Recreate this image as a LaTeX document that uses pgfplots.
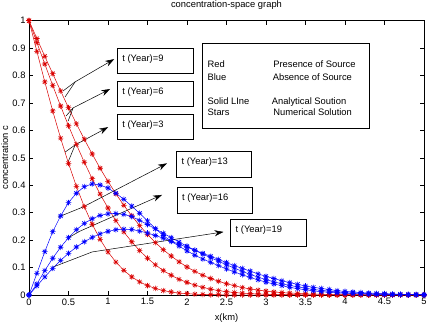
\documentclass[border=0pt]{standalone}
\usepackage{pgfplots}
\pgfplotsset{compat=1.18}
\usepackage{pgfplotstable}
\usepackage{fontspec}
\setmainfont{Liberation Sans}
\usetikzlibrary{arrows.meta}
\newcommand{\fs}{\fontsize{9.4}{10}\selectfont}
\pgfdeclareplotmark{mstar}{%
 \pgfpathmoveto{\pgfqpoint{-\pgfplotmarksize}{0pt}}\pgfpathlineto{\pgfqpoint{\pgfplotmarksize}{0pt}}%
 \pgfpathmoveto{\pgfqpoint{0pt}{-\pgfplotmarksize}}\pgfpathlineto{\pgfqpoint{0pt}{\pgfplotmarksize}}%
 \pgfpathmoveto{\pgfqpoint{-.707\pgfplotmarksize}{-.707\pgfplotmarksize}}\pgfpathlineto{\pgfqpoint{.707\pgfplotmarksize}{.707\pgfplotmarksize}}%
 \pgfpathmoveto{\pgfqpoint{-.707\pgfplotmarksize}{.707\pgfplotmarksize}}\pgfpathlineto{\pgfqpoint{.707\pgfplotmarksize}{-.707\pgfplotmarksize}}%
 \pgfusepathqstroke}
\pgfplotstableread{
x R3 R6 R9 B13 B16 B19
0.0 1 1 1 0 0 0
0.1 0.888 0.920 0.935 0.079 0.040 0.033
0.2 0.777 0.842 0.870 0.158 0.089 0.066
0.3 0.671 0.764 0.807 0.231 0.134 0.097
0.4 0.572 0.689 0.744 0.288 0.174 0.126
0.5 0.480 0.617 0.683 0.337 0.209 0.152
0.6 0.396 0.549 0.624 0.371 0.238 0.175
0.7 0.322 0.484 0.568 0.395 0.261 0.194
0.8 0.258 0.424 0.514 0.405 0.278 0.210
0.9 0.203 0.368 0.462 0.401 0.290 0.223
1.0 0.157 0.317 0.414 0.390 0.296 0.232
1.1 0.120 0.271 0.369 0.371 0.297 0.238
1.2 0.090 0.230 0.327 0.349 0.294 0.240
1.3 0.066 0.194 0.289 0.324 0.286 0.239
1.4 0.048 0.162 0.253 0.298 0.272 0.233
1.5 0.034 0.134 0.221 0.270 0.257 0.226
1.6 0.024 0.110 0.191 0.242 0.241 0.217
1.7 0.016 0.089 0.165 0.217 0.225 0.207
1.8 0.011 0.072 0.142 0.196 0.209 0.196
1.9 0.007 0.057 0.121 0.178 0.193 0.185
2.0 0.005 0.046 0.102 0.161 0.178 0.174
2.1 0.003 0.036 0.086 0.145 0.163 0.163
2.2 0.002 0.028 0.072 0.131 0.149 0.152
2.3 0.001 0.021 0.060 0.119 0.136 0.141
2.4 0.001 0.016 0.050 0.107 0.123 0.130
2.5 0.000 0.012 0.041 0.095 0.110 0.118
2.6 0 0.009 0.034 0.084 0.098 0.107
2.7 0 0.007 0.027 0.074 0.086 0.097
2.8 0 0.005 0.022 0.064 0.075 0.087
2.9 0 0.004 0.018 0.055 0.065 0.077
3.0 0 0.003 0.014 0.047 0.056 0.068
3.1 0 0.002 0.011 0.040 0.048 0.060
3.2 0 0.001 0.009 0.034 0.041 0.052
3.3 0 0.001 0.007 0.028 0.035 0.045
3.4 0 0.001 0.006 0.023 0.030 0.039
3.5 0 0 0.004 0.019 0.025 0.033
3.6 0 0 0.003 0.015 0.020 0.028
3.7 0 0 0.003 0.012 0.017 0.024
3.8 0 0 0.002 0.010 0.014 0.020
3.9 0 0 0.001 0.008 0.011 0.016
4.0 0 0 0.001 0.006 0.009 0.013
4.1 0 0 0.001 0.005 0.007 0.011
4.2 0 0 0.001 0.004 0.006 0.009
4.3 0 0 0 0.003 0.005 0.007
4.4 0 0 0 0.002 0.004 0.006
4.5 0 0 0 0.002 0.003 0.005
4.6 0 0 0 0.001 0.002 0.004
4.7 0 0 0 0.001 0.002 0.003
4.8 0 0 0 0.001 0.001 0.002
4.9 0 0 0 0.001 0.001 0.002
5.0 0 0 0 0 0.001 0.001
}\data
\begin{document}
\begin{tikzpicture}
\useasboundingbox (-29bp,-27bp) rectangle (403bp,295bp);
\begin{axis}[at={(0,0)}, anchor=south west, scale only axis,
  width=395bp, height=274.3bp,
  xmin=0, xmax=5, ymin=0, ymax=1, clip=false,
  xtick={0,0.5,1,1.5,2,2.5,3,3.5,4,4.5,5},
  ytick={0,0.1,0.2,0.3,0.4,0.5,0.6,0.7,0.8,0.9,1},
  tick align=inside, major tick length=4bp,
  tick style={black, line width=0.5bp},
  axis line style={black, line width=0.5bp},
  /pgf/number format/assume math mode=true,
  ticklabel style={font=\fs},
  xlabel={x(km)}, ylabel={concentration c},
  xlabel style={font=\fs, at={(axis description cs:0.5,0)}, anchor=north, yshift=-15bp},
  ylabel style={font=\fs, at={(axis description cs:-0.044,0.5)}, anchor=south},
  title={concentration-space graph},
  title style={font=\fs, at={(axis description cs:0.5,1)}, anchor=base, yshift=7.7bp},
  every axis plot/.append style={line width=0.5bp, mark=mstar, mark size=2.8bp, mark options={line width=0.6bp}},
]
\addplot[red!85!black] table[x=x, y=R3] {\data};
\addplot[red!85!black] table[x=x, y=R6] {\data};
\addplot[red!85!black] table[x=x, y=R9] {\data};
\addplot[blue] table[x=x, y=B13] {\data};
\addplot[blue] table[x=x, y=B16] {\data};
\addplot[blue] table[x=x, y=B19] {\data};

% label boxes
\begin{scope}[line width=0.6bp, black]
\draw (axis cs:1.117,0.809) rectangle (axis cs:2.081,0.900);
\draw (axis cs:1.117,0.689) rectangle (axis cs:2.081,0.780);
\draw (axis cs:1.117,0.569) rectangle (axis cs:2.081,0.660);
\draw (axis cs:1.865,0.430) rectangle (axis cs:2.817,0.525);
\draw (axis cs:1.878,0.299) rectangle (axis cs:2.830,0.394);
\draw (axis cs:2.551,0.179) rectangle (axis cs:3.515,0.277);
\draw (axis cs:2.195,0.609) rectangle (axis cs:4.302,0.919);
\end{scope}
\begin{scope}[every node/.style={font=\fs, inner sep=0pt, anchor=base west}]
\node at (axis cs:1.180,0.851) {t (Year)=9};
\node at (axis cs:1.180,0.731) {t (Year)=6};
\node at (axis cs:1.180,0.611) {t (Year)=3};
\node at (axis cs:1.929,0.475) {t (Year)=13};
\node at (axis cs:1.935,0.343) {t (Year)=16};
\node at (axis cs:2.614,0.227) {t (Year)=19};
\node at (axis cs:2.259,0.829) {Red};
\node at (axis cs:2.259,0.782) {Blue};
\node at (axis cs:2.259,0.696) {Solid LIne};
\node at (axis cs:2.259,0.653) {Stars};
\node at (axis cs:3.090,0.829) {Presence of Source};
\node at (axis cs:3.084,0.782) {Absence of Source};
\node at (axis cs:3.071,0.696) {Analytical Soution};
\node at (axis cs:3.090,0.653) {Numerical Solution};
\end{scope}
% arrows
\begin{scope}[black, line width=0.5bp]
\draw (axis cs:0.431,0.744) -- (axis cs:0.584,0.777);
\draw[-{Stealth[length=9bp,width=6bp]}] (axis cs:0.457,0.722) -- (axis cs:0.584,0.777) -- (axis cs:1.079,0.860);
\draw (axis cs:0.470,0.653) -- (axis cs:0.558,0.682);
\draw[-{Stealth[length=9bp,width=6bp]}] (axis cs:0.495,0.634) -- (axis cs:0.558,0.682) -- (axis cs:1.028,0.751);
\draw (axis cs:0.457,0.521) -- (axis cs:0.584,0.547);
\draw[-{Stealth[length=9bp,width=6bp]}] (axis cs:0.495,0.485) -- (axis cs:0.584,0.547) -- (axis cs:1.003,0.612);
\draw[-{Stealth[length=9bp,width=6bp]}] (axis cs:0.368,0.284) -- (axis cs:0.685,0.321) -- (axis cs:1.747,0.480);
\draw[-{Stealth[length=9bp,width=6bp]}] (axis cs:0.500,0.209) -- (axis cs:0.647,0.233) -- (axis cs:1.684,0.365);
\draw[-{Stealth[length=9bp,width=6bp]}] (axis cs:0.305,0.102) -- (axis cs:0.800,0.157) -- (axis cs:2.462,0.230);
\end{scope}
\end{axis}
\end{tikzpicture}
\end{document}
